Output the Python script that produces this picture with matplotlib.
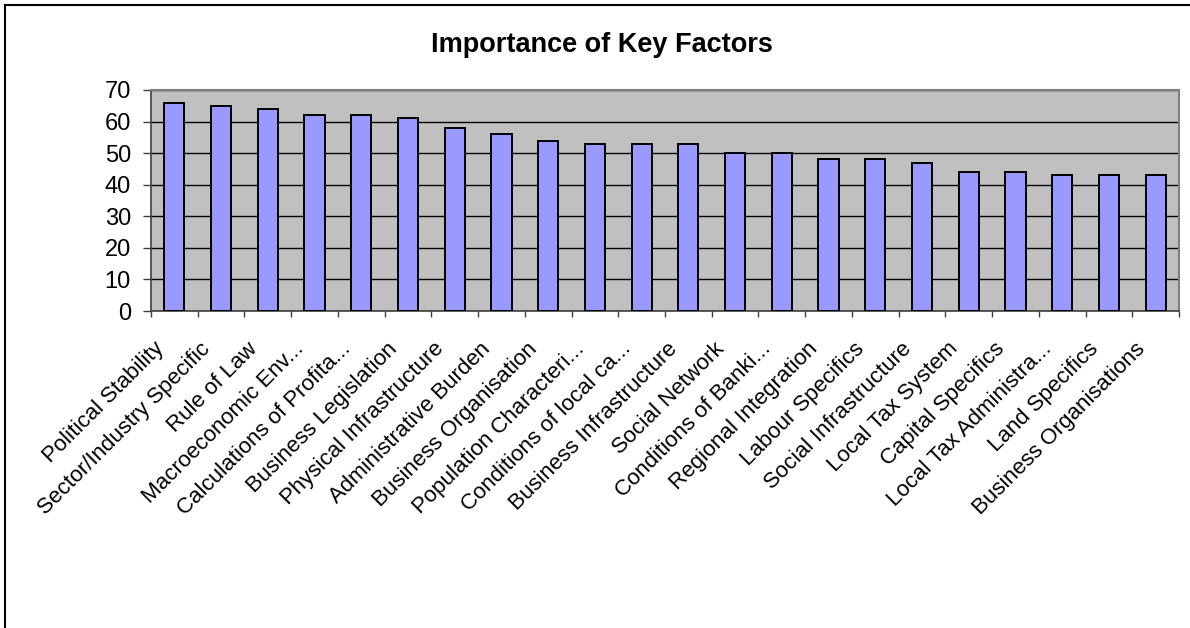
import matplotlib
matplotlib.use("Agg")
import matplotlib.pyplot as plt
import matplotlib.transforms as mtransforms
from matplotlib.lines import Line2D
import numpy as np

factors = [
    "Political Stability", "Sector/Industry Specific", "Rule of Law",
    "Macroeconomic Env...", "Calculations of Profita...", "Business Legislation",
    "Physical Infrastructure", "Administrative Burden", "Business Organisation",
    "Population Characteri...", "Conditions of local ca...", "Business Infrastructure",
    "Social Network", "Conditions of Banki...", "Regional Integration",
    "Labour Specifics", "Social Infrastructure", "Local Tax System",
    "Capital Specifics", "Local Tax Administra...", "Land Specifics",
    "Business Organisations",
]
importance = [66, 65, 64, 62, 62, 61, 58, 56, 54, 53, 53, 53,
              50, 50, 48, 48, 47, 44, 44, 43, 43, 43]
y_ticks = [0, 10, 20, 30, 40, 50, 60, 70]

plt.rcParams['font.family'] = ['Liberation Sans', 'DejaVu Sans']

fig = plt.figure(figsize=(11.9, 6.28), dpi=100)
ax = fig.add_axes([151 / 1190, 1 - 311 / 628, 1028 / 1190, 221 / 628])

x = np.arange(len(factors))
ax.bar(x, importance, width=0.43, color='#9999FF', edgecolor='black',
       linewidth=1.4, zorder=3)

ax.set_facecolor('#C0C0C0')
ax.set_xlim(-0.5, len(factors) - 0.5)
ax.set_ylim(0, 70)
ax.set_yticks(y_ticks)
ax.yaxis.grid(True, color='black', linewidth=1.0, zorder=1)
ax.set_axisbelow(True)

# labels sit under the bar centres, tick marks go between categories
ax.set_xticks(x)
ax.set_xticklabels(factors, rotation=45, ha='right', va='center',
                   rotation_mode='anchor', fontsize=16)
ax.set_xticks(np.arange(len(factors) + 1) - 0.5, minor=True)
ax.tick_params(axis='x', which='major', length=0, pad=25)
ax.tick_params(axis='x', which='minor', length=4.5, width=1, color='#404040')
ax.tick_params(axis='y', length=6, width=1, color='#404040', labelsize=17, pad=8.4)

shift = mtransforms.ScaledTranslation(-14 / 100, 0, fig.dpi_scale_trans)
for lbl in ax.get_xticklabels():
    lbl.set_transform(lbl.get_transform() + shift)

for side in ['top', 'right']:
    ax.spines[side].set_color('#808080')
    ax.spines[side].set_linewidth(1.5)
for side in ['left', 'bottom']:
    ax.spines[side].set_color('#404040')
    ax.spines[side].set_linewidth(1.2)

fig.text(602 / 1190, 1 - 45 / 628, "Importance of Key Factors",
         ha='center', va='center', fontsize=19.5, fontweight='bold')

# chart frame (left and top edges)
fig.add_artist(Line2D([5 / 1190, 5 / 1190], [0, 1 - 5 / 628],
                      transform=fig.transFigure, color='black', linewidth=1.5))
fig.add_artist(Line2D([5 / 1190, 1], [1 - 5 / 628, 1 - 5 / 628],
                      transform=fig.transFigure, color='black', linewidth=1.5))

fig.savefig("out.png", dpi=100)
